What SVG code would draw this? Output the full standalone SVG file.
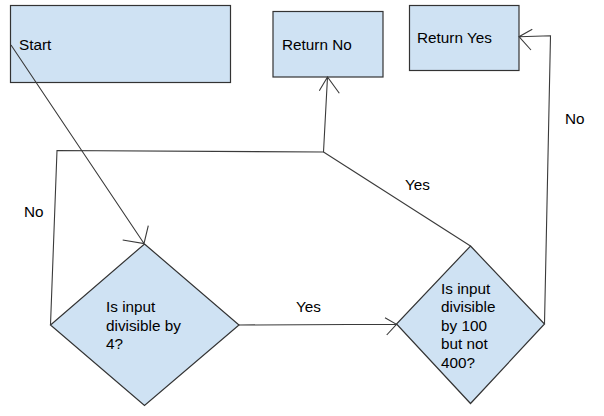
<svg xmlns="http://www.w3.org/2000/svg" width="604" height="416" viewBox="0 0 604 416">
<style>
.box{fill:#cfe2f3;stroke:#333;stroke-width:1.2}
.ln{fill:none;stroke:#3a3a3a;stroke-width:1.1;stroke-linejoin:miter}
text{font-family:"Liberation Sans",Arial,sans-serif;font-size:15.3px;fill:#000}
</style>
<rect width="604" height="416" fill="#fff"/>
<g id="start">
<rect class="box" x="10.5" y="5.5" width="220" height="77"/>
<text x="19" y="50">Start</text>
</g>
<g id="return-no">
<rect class="box" x="273" y="11.5" width="110" height="65.5"/>
<text x="282" y="49.5">Return No</text>
</g>
<g id="return-yes">
<rect class="box" x="409.5" y="5.5" width="109.5" height="65"/>
<text x="417" y="43">Return Yes</text>
</g>
<g id="div4">
<polygon class="box" points="144.5,244 239,325 144.5,405.5 50.5,325"/>
<text x="106" y="312">Is input</text>
<text x="106" y="330.7">divisible by</text>
<text x="106" y="349">4?</text>
</g>
<g id="div100">
<polygon class="box" points="470.5,246 544.5,324 470.5,403.5 396.5,324"/>
<text x="441" y="293.5">Is input</text>
<text x="441" y="312">divisible</text>
<text x="441" y="330.7">by 100</text>
<text x="441" y="349.3">but not</text>
<text x="441" y="367.8">400?</text>
</g>
<g id="connectors">
<path class="ln" d="M11,45 L144,243.5 M122.7,240 L144,243.5 L148.3,225.7"/>
<path class="ln" d="M50.5,325 L57,150.5 L323.5,152 L327.5,77 M319.3,90.7 L327.5,77 L339.3,93.3"/>
<path class="ln" d="M470.5,246 L323.5,152"/>
<path class="ln" d="M239,325 L396.5,324.3 M385,317.7 L396.5,324.3 L386.7,335"/>
<path class="ln" d="M544.5,324 L550.5,35.7 L519,36.7 M532.3,29.3 L519,36.7 L531,50"/>
<text x="24" y="217">No</text>
<text x="405" y="189.5">Yes</text>
<text x="296" y="312">Yes</text>
<text x="565" y="124">No</text>
</g>
</svg>
